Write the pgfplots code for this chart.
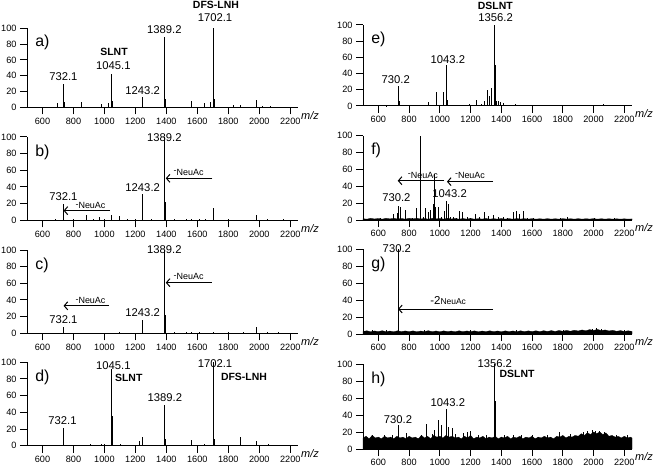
\documentclass[border=0pt]{standalone}
\usepackage{fontspec}
\setmainfont{Liberation Sans}
\usepackage{pgfplots}
\pgfplotsset{compat=1.18}
\usetikzlibrary{arrows.meta}

\pgfplotsset{
 spec/.style={
  scale only axis, xmin=500, xmax=2250, ymin=0, ymax=100,
  axis lines=left, axis line style={-, line width=1bp, black},
  xtick={600,800,...,2200}, ytick={0,20,...,100},
  tick align=outside, major tick length=7bp,
  every tick/.style={black, line width=1bp},
  tick label style={font=\fontsize{9.2}{10}\selectfont},
  /pgf/number format/assume math mode=true,
  /pgf/number format/set thousands separator={},
  clip=false,
  anchor=south west,
 },
 stick/.style={ycomb, black, line width=0.65bp, mark=none},
 band/.style={fill=black, draw=black, line width=0.3bp, mark=none},
}
\newcommand{\pk}[3]{\node[inner sep=0, font=\fontsize{11.3}{12}\selectfont] at (axis cs:#1,#2) {#3};}
\newcommand{\nm}[3]{\node[inner sep=0, font=\bfseries\fontsize{10.5}{12}\selectfont] at (axis cs:#1,#2) {#3};}
\newcommand{\mz}{\node[anchor=west, xshift=3bp, yshift=-8bp, inner sep=0, font=\fontsize{11}{12}\selectfont\itshape] at (rel axis cs:1,0) {m/z};}
\newcommand{\lab}[1]{\node[anchor=west, inner sep=0, font=\fontsize{16}{17}\selectfont] at (rel axis cs:0.03,0.82) {#1};}
\newcommand{\arr}[3]{\draw[line width=0.8bp, -{Straight Barb[length=3.5bp,width=8bp,line width=1bp]}] (axis cs:#1,#3) -- (axis cs:#2,#3);}
\newcommand{\neu}[3]{\node[inner sep=0, font=\fontsize{9}{10}\selectfont] at (axis cs:#1,#2) {\raisebox{0.3ex}{-}NeuAc};}

\begin{document}
\begin{tikzpicture}[x=1bp,y=1bp]
\path[use as bounding box] (0,0) rectangle (656,-471);

% ---------- a ----------
\begin{axis}[spec, at={(27bp,-107.3bp)}, width=271bp, height=79bp]
\addplot[stick] coordinates {(505,0.8) (540,0.5) (600,1) (650,0.6) (697,6) (732,30) (738,7) (790,0.8) (854,7) (900,1) (950,0.8) (983,4) (1028,6) (1045,42) (1050,8) (1100,1) (1150,0.6) (1200,1) (1243,13) (1300,0.8) (1350,1) (1389,89) (1394,10) (1450,1) (1500,0.8) (1559,8) (1600,1) (1643,6) (1682,7) (1702,100) (1708,10) (1750,1) (1832,3) (1875,3) (1930,1) (1978,9) (2020,1.5) (2069,2) (2100,1) (2150,1) (2200,0.8)};
\pk{735}{38.8}{732.1}
\pk{1058}{52.3}{1045.1}
\nm{1062}{69.6}{SLNT}
\pk{1247}{21}{1243.2}
\pk{1387}{98.7}{1389.2}
\pk{1714}{114}{1702.1}
\nm{1720}{129}{DFS-LNH}
\lab{a)}
\mz
\end{axis}

% ---------- b ----------
\begin{axis}[spec, at={(27bp,-220.3bp)}, width=271bp, height=83.3bp]
\addplot[stick] coordinates {(600,0.5) (680,1) (732,20) (736,8) (800,1) (880,6) (930,1) (966,4) (1000,1) (1043,6) (1095,5) (1150,1) (1200,1) (1243,32) (1247,16) (1300,1) (1389,100) (1394,22) (1450,1) (1531,1.5) (1560,1) (1611,2) (1650,1) (1702,15) (1800,1) (1900,0.8) (1978,6) (2050,1) (2155,1.5)};
\pk{1387}{99.6}{1389.2}
\pk{1247}{39.6}{1243.2}
\pk{735}{28.4}{732.1}
\arr{1697}{1396}{50.4}
\neu{1544}{57.6}{}
\arr{1037}{736}{11.6}
\neu{910}{17.6}{}
\lab{b)}
\mz
\end{axis}

% ---------- c ----------
\begin{axis}[spec, at={(27bp,-333.3bp)}, width=271bp, height=83.3bp]
\addplot[stick] coordinates {(600,0.5) (732,7) (800,0.5) (900,0.8) (1000,0.5) (1095,1) (1150,0.5) (1243,16) (1300,0.8) (1389,100) (1394,22) (1450,1) (1531,2) (1560,1.5) (1611,2) (1700,1) (1800,1) (1900,1) (1978,8) (2050,1) (2122,2) (2200,0.8)};
\pk{1387}{101}{1389.2}
\pk{1247}{25}{1243.2}
\pk{735}{17}{732.1}
\arr{1692}{1396}{60.8}
\neu{1544}{68}{}
\arr{1030}{736}{33}
\neu{910}{39}{}
\lab{c)}
\mz
\end{axis}

% ---------- d ----------
\begin{axis}[spec, at={(27bp,-445.7bp)}, width=271bp, height=83.4bp]
\addplot[stick] coordinates {(600,0.5) (700,1) (732,21) (736,6) (800,1) (912,1.5) (983,2) (1002,2) (1045,92) (1050,36) (1101,1.5) (1150,1) (1226,6) (1243,10) (1300,1) (1389,49) (1393,8) (1450,1) (1559,7) (1600,1) (1643,2) (1702,100) (1708,8) (1750,1) (1800,1) (1875,10) (1930,1) (1978,6) (2058,1.5) (2150,1)};
\pk{1058}{96}{1045.1}
\nm{1157}{81.6}{SLNT}
\pk{1714}{98.8}{1702.1}
\nm{1901}{82}{DFS-LNH}
\pk{1390}{57.6}{1389.2}
\pk{729}{30}{732.1}
\lab{d)}
\mz
\end{axis}

% ---------- e ----------
\begin{axis}[spec, at={(363bp,-106bp)}, width=269bp, height=81bp]
\addplot[stick] coordinates {(600,1) (650,0.6) (730,25) (733,6) (800,1) (870,0.8) (926,5) (976,17) (1020,17) (1043,51) (1048,8) (1100,1) (1150,1.5) (1191,2) (1235,7) (1270,2) (1291,6) (1309,20) (1320,12) (1333,22) (1356,100) (1358,50) (1370,6) (1380,6) (1393,5) (1411,4) (1490,2) (1600,1) (1700,0.8) (1800,1) (1950,0.8) (2063,3) (2150,1)};
\nm{1361}{124}{DSLNT}
\pk{1363}{109.5}{1356.2}
\pk{1052}{57.6}{1043.2}
\pk{713}{32}{730.2}
\lab{e)}
\mz
\end{axis}

% ---------- f ----------
\begin{axis}[spec, at={(363bp,-220bp)}, width=269bp, height=84.3bp]
\addplot[band] coordinates {(500,0) (500,1.5) (525,1) (550,2) (575,1.2) (600,1.8) (625,1) (650,2) (675,1.3) (700,2) (725,1.2) (750,1.8) (775,1) (800,2) (825,1.4) (850,2) (875,1.2) (900,1.8) (925,1) (950,2) (975,1.3) (1000,1.8) (1025,1.1) (1050,2) (1075,1.2) (1100,1.8) (1125,1) (1150,1.7) (1175,1.1) (1200,1.8) (1225,1) (1250,1.6) (1275,1.1) (1300,1.7) (1325,1) (1350,1.6) (1375,1) (1400,1.7) (1425,1.1) (1450,1.6) (1475,1) (1500,1.7) (1525,1.1) (1550,1.6) (1575,1) (1600,1.6) (1625,1) (1650,1.5) (1675,1) (1700,1.6) (1725,1) (1750,1.5) (1775,1) (1800,1.6) (1825,1.1) (1850,1.5) (1875,1) (1900,1.6) (1925,1) (1950,1.5) (1975,1.1) (2000,1.6) (2025,1) (2050,1.5) (2075,1) (2100,1.5) (2125,1) (2150,1.4) (2175,1) (2200,1.4) (2225,1) (2250,1.3) (2250,0)} \closedcycle;
\addplot[stick] coordinates {(615,2) (650,1) (698,7) (720,8) (730,17) (741,16) (778,12) (820,2) (850,14) (872,100) (875,20) (890,3) (907,14) (926,9) (941,12) (959,19) (963,55) (972,15) (989,16) (1010,4) (1028,11) (1043,23) (1052,19) (1070,3) (1089,4) (1110,2) (1128,11) (1143,9) (1176,4) (1200,2) (1230,7) (1259,3) (1289,9) (1313,5) (1350,6) (1383,3) (1415,4) (1440,2) (1476,9) (1498,11) (1520,7) (1541,11) (1570,2) (1611,2) (1700,1.5) (1785,2) (1828,3) (1900,1.5) (2002,2) (2060,1.5) (2133,2) (2200,1.5)};
\pk{717}{26.5}{730.2}
\pk{1063}{30.8}{1043.2}
\arr{1030}{726}{46.6}
\neu{889}{53.4}{}
\arr{1346}{1046}{45.5}
\neu{1196}{53.4}{}
\lab{f)}
\mz
\end{axis}

% ---------- g ----------
\begin{axis}[spec, at={(363bp,-334bp)}, width=269bp, height=84.7bp]
\addplot[band] coordinates {(500,0) (500,3) (525,3.8) (550,2.6) (575,3.6) (600,2.8) (625,3.9) (650,2.7) (675,3.5) (700,2.6) (725,3.8) (750,2.8) (775,3.6) (800,2.7) (825,3.7) (850,2.6) (875,3.5) (900,2.8) (925,3.9) (950,2.7) (975,3.6) (1000,2.6) (1025,3.7) (1050,2.8) (1075,3.5) (1100,2.6) (1125,3.8) (1150,2.7) (1175,3.6) (1200,2.8) (1225,3.7) (1250,2.6) (1275,3.5) (1300,2.8) (1325,3.8) (1350,2.7) (1375,3.6) (1400,2.6) (1425,3.7) (1450,2.8) (1475,3.6) (1500,2.7) (1525,3.8) (1550,2.8) (1575,3.7) (1600,2.9) (1625,3.8) (1650,2.8) (1675,3.9) (1700,3) (1725,4) (1750,3) (1775,4.1) (1800,3.2) (1825,4.2) (1850,3.3) (1875,4.4) (1900,3.5) (1925,4.8) (1950,3.8) (1975,5.2) (2000,4.2) (2025,5.4) (2050,4) (2075,4.8) (2100,3.6) (2125,4.3) (2150,3.2) (2175,4) (2200,3) (2225,3.8) (2250,3) (2250,0)} \closedcycle;
\addplot[stick] coordinates {(560,5) (650,4.5) (730,100) (900,4.5) (1200,4.5) (1500,4.5) (1800,5) (1990,6) (2020,6.5) (2050,6) (2200,5)};
\pk{720}{100.4}{730.2}
\arr{1346}{728}{29.5}
\node[inner sep=0] at (axis cs:1054,39) {\fontsize{11.5}{12}\selectfont -2\fontsize{8.5}{9}\selectfont NeuAc};
\lab{g)}
\mz
\end{axis}

% ---------- h ----------
\begin{axis}[spec, at={(363bp,-449bp)}, width=269bp, height=85bp]
\addplot[band] coordinates {(500,0) (500,13) (520,15) (540,12) (560,16) (580,13) (600,14) (620,12) (640,15) (660,13) (680,14) (700,12) (720,15) (740,13) (760,14) (780,12) (800,15) (820,13) (840,14) (860,12) (880,16) (900,13) (920,15) (940,12) (960,16) (980,14) (1000,15) (1020,13) (1040,16) (1060,14) (1080,15) (1100,13) (1120,14) (1140,12) (1160,15) (1180,13) (1200,16) (1220,12) (1240,14) (1260,13) (1280,15) (1300,12) (1320,14) (1340,13) (1360,15) (1380,12) (1400,14) (1420,13) (1440,15) (1460,12) (1480,14) (1500,13) (1520,15) (1540,12) (1560,14) (1580,13) (1600,15) (1620,12) (1640,14) (1660,13) (1680,15) (1700,13) (1720,14) (1740,12) (1760,15) (1780,14) (1800,16) (1820,13) (1840,15) (1860,14) (1880,16) (1900,15) (1920,18) (1940,16) (1960,19) (1980,17) (2000,20) (2020,18) (2040,20) (2060,17) (2080,19) (2100,15) (2120,16) (2140,14) (2160,15) (2180,13) (2200,15) (2220,13) (2240,14) (2250,13) (2250,0)} \closedcycle;
\addplot[stick] coordinates {(563,16) (640,17) (693,16) (730,28) (785,19) (878,17) (909,30) (948,18) (963,22) (993,34) (1007,28) (1043,47) (1052,26) (1078,25) (1100,18) (1154,19) (1176,20) (1198,21) (1250,17) (1300,17) (1356,100) (1359,57) (1420,17) (1480,17) (1530,16) (1600,17) (1700,17) (1780,20) (1850,18) (1930,20) (1960,21) (1990,22) (2010,21) (2040,21) (2070,20) (2150,17) (2220,16)};
\pk{1357}{100.8}{1356.2}
\nm{1502}{87.8}{DSLNT}
\pk{1052}{55}{1043.2}
\pk{728}{35}{730.2}
\lab{h)}
\mz
\end{axis}
\end{tikzpicture}
\end{document}
